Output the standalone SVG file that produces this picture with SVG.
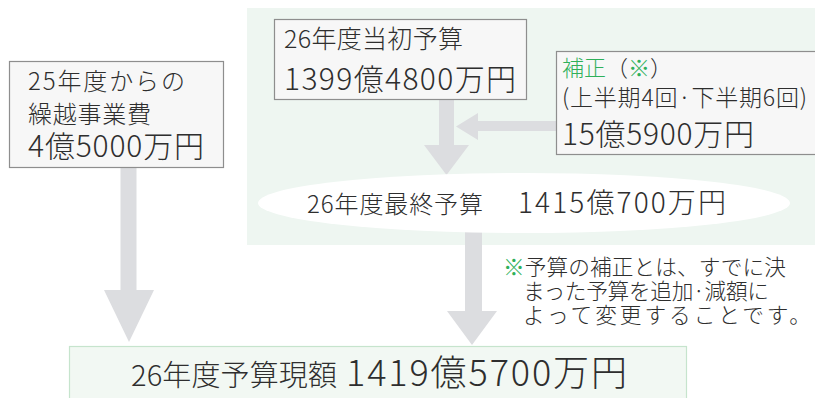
<svg xmlns="http://www.w3.org/2000/svg" width="815" height="398" viewBox="0 0 815 398">
<style>
text{font-family:"Noto Sans CJK JP","Noto Sans",sans-serif;font-weight:300;fill:#2e2e2e}
.box{fill:#f7f7f7;stroke:#8e8e8e;stroke-width:1.2}
.arr{fill:#dcdde0}
.g{fill:#2fb05a}
</style>
<rect x="247" y="8" width="568" height="237" fill="#eef6f1"/>
<g id="connectors">
<path class="arr" d="M120.5,168 H136.5 V290 H154 L129,342 L104,290 H120.5 Z"/>
<path class="arr" d="M439,100 H454 V145 H469 L446.5,175 L424,145 H439 Z"/>
<path class="arr" d="M557,121 V131 H478 V140 L456,126.5 L478,113 V121 Z"/>
<path class="arr" d="M465,230 H482 V311 H497 L472,345 L447,311 H465 Z"/>
</g>
<g id="carryover">
<rect class="box" x="9.5" y="61.5" width="214" height="106"/>
<text x="28" y="90" font-size="24" textLength="157" lengthAdjust="spacing">25年度からの</text>
<text x="28" y="123" font-size="24" textLength="123" lengthAdjust="spacing">繰越事業費</text>
<text x="28" y="157" font-size="30" textLength="176" lengthAdjust="spacing">4億5000万円</text>
</g>
<g id="initial">
<rect class="box" x="274.5" y="19.5" width="252" height="80"/>
<text x="284" y="48" font-size="25" textLength="179" lengthAdjust="spacing">26年度当初予算</text>
<text x="284" y="90" font-size="30" textLength="232" lengthAdjust="spacing">1399億4800万円</text>
</g>
<g id="supplement">
<rect class="box" x="556.5" y="51.5" width="262" height="103"/>
<text x="562" y="76" font-size="22"><tspan class="g">補正</tspan>（<tspan class="g">※</tspan>）</text>
<text x="562" y="106" font-size="23" textLength="245" lengthAdjust="spacing">(上半期4回·下半期6回)</text>
<text x="562" y="145" font-size="30" textLength="192" lengthAdjust="spacing">15億5900万円</text>
</g>
<g id="final">
<ellipse cx="524" cy="203" rx="266" ry="30" fill="#ffffff"/>
<text x="307" y="213" font-size="24" textLength="176" lengthAdjust="spacing">26年度最終予算</text>
<text x="518" y="213" font-size="28" textLength="208" lengthAdjust="spacing">1415億700万円</text>
</g>
<g id="note">
<text x="503" y="275" font-size="21.7" textLength="283" lengthAdjust="spacing"><tspan class="g">※</tspan>予算の補正とは、すでに決</text>
<text x="523" y="299" font-size="21.7" textLength="246" lengthAdjust="spacing">まった予算を追加·減額に</text>
<text x="523" y="323" font-size="21.7" textLength="288" lengthAdjust="spacing">よって変更することです。</text>
</g>
<g id="current">
<rect x="69.5" y="346.5" width="617" height="60" fill="#f2f8f3" stroke="#c6e4cd" stroke-width="1.2"/>
<text x="131" y="386" font-size="29" textLength="206" lengthAdjust="spacing">26年度予算現額</text>
<text x="346" y="386" font-size="36" textLength="281" lengthAdjust="spacing">1419億5700万円</text>
</g>
</svg>
